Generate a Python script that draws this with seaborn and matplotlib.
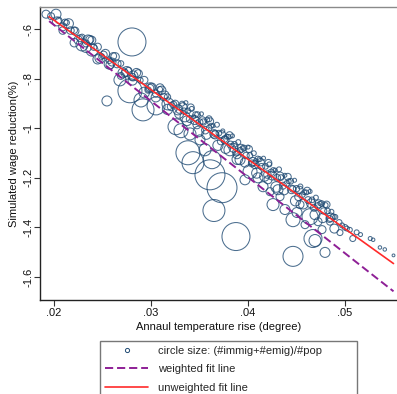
import numpy as np
import pandas as pd
import matplotlib
matplotlib.use("Agg")
import matplotlib.pyplot as plt
import matplotlib.ticker as mticker
from matplotlib.lines import Line2D
import seaborn as sns

# ── Style ──────────────────────────────────────────────────────────────────────
sns.set_style("white")
plt.rcParams["font.family"] = ["Liberation Sans", "DejaVu Sans"]
plt.rcParams["font.size"] = 8

NAVY   = "#1f4a73"
PURPLE = "#8e1f96"
RED    = "#ff2a2a"

# ── Data ──────────────────────────────────────────────────────────────────────
# thin band of small circles, left part
band1_x = [0.0197, 0.0205, 0.0209, 0.0213, 0.0217, 0.0221, 0.0225, 0.0229, 0.0233,
           0.0237, 0.0241, 0.0245, 0.0249, 0.0253, 0.0257, 0.0261, 0.0265, 0.0269,
           0.0273, 0.0277, 0.0281, 0.0285, 0.0289, 0.0293, 0.0297, 0.0301, 0.0305,
           0.0309, 0.0313, 0.0317, 0.0321, 0.0325, 0.0329]
band1_y = [-0.548, -0.565, -0.591, -0.574, -0.606, -0.605, -0.644, -0.632, -0.658,
           -0.642, -0.673, -0.672, -0.711, -0.699, -0.726, -0.709, -0.740, -0.739,
           -0.778, -0.767, -0.793, -0.776, -0.807, -0.806, -0.846, -0.834, -0.860,
           -0.843, -0.874, -0.874, -0.913, -0.901, -0.927]
band1_w = [0.006, 0.005, 0.008, 0.004, 0.007, 0.005, 0.009, 0.004, 0.006,
           0.008, 0.005, 0.007, 0.004, 0.009, 0.005, 0.006, 0.008, 0.004,
           0.007, 0.005, 0.006, 0.009, 0.004, 0.007, 0.005, 0.008, 0.006,
           0.004, 0.007, 0.005, 0.008, 0.006, 0.005]

# second row of circles, left part
band4_x = [0.0203, 0.0209, 0.0215, 0.0221, 0.0227, 0.0233, 0.0239, 0.0245,
           0.0251, 0.0257, 0.0263, 0.0269, 0.0275, 0.0281, 0.0287, 0.0293,
           0.0299, 0.0305, 0.0311, 0.0317, 0.0323, 0.0329]
band4_y = [-0.569, -0.606, -0.578, -0.655, -0.637, -0.673, -0.645, -0.722,
           -0.704, -0.741, -0.712, -0.789, -0.771, -0.808, -0.780, -0.856,
           -0.838, -0.875, -0.847, -0.924, -0.905, -0.942]
band4_w = [0.010, 0.007, 0.012, 0.009, 0.006, 0.014, 0.008, 0.011,
           0.007, 0.013, 0.009, 0.006, 0.012, 0.010, 0.008, 0.014,
           0.007, 0.011, 0.009, 0.013, 0.006, 0.010]

# dense band, middle part
band2_x = [0.0332, 0.0334, 0.0336, 0.0338, 0.0340, 0.0342, 0.0344, 0.0346,
           0.0348, 0.0350, 0.0352, 0.0354, 0.0356, 0.0358, 0.0360, 0.0362,
           0.0364, 0.0366, 0.0368, 0.0370, 0.0372, 0.0374, 0.0376, 0.0378,
           0.0380, 0.0382, 0.0384, 0.0386, 0.0388, 0.0390, 0.0392, 0.0394,
           0.0396, 0.0398, 0.0400, 0.0402, 0.0404, 0.0406, 0.0408, 0.0410,
           0.0412, 0.0414, 0.0416, 0.0418, 0.0420, 0.0422, 0.0424, 0.0426,
           0.0428, 0.0430, 0.0432, 0.0434, 0.0436, 0.0438, 0.0440, 0.0442,
           0.0444, 0.0446, 0.0448, 0.0450, 0.0452, 0.0454, 0.0456, 0.0458,
           0.0460, 0.0462, 0.0464, 0.0466, 0.0468, 0.0470, 0.0472, 0.0474,
           0.0476, 0.0478, 0.0480, 0.0482, 0.0484, 0.0486, 0.0488, 0.0490]
band2_y = [-0.901, -0.931, -0.897, -0.930, -0.963, -0.922, -0.954, -0.945,
           -0.945, -0.976, -0.942, -0.975, -1.008, -0.966, -0.999, -0.990,
           -0.990, -1.021, -0.986, -1.020, -1.053, -1.011, -1.044, -1.034,
           -1.035, -1.066, -1.031, -1.065, -1.097, -1.056, -1.089, -1.079,
           -1.080, -1.110, -1.076, -1.110, -1.142, -1.101, -1.133, -1.124,
           -1.125, -1.155, -1.121, -1.154, -1.187, -1.146, -1.178, -1.169,
           -1.169, -1.200, -1.166, -1.199, -1.232, -1.190, -1.223, -1.214,
           -1.214, -1.245, -1.210, -1.244, -1.277, -1.235, -1.268, -1.258,
           -1.259, -1.290, -1.255, -1.289, -1.321, -1.280, -1.313, -1.303,
           -1.304, -1.334, -1.310, -1.334, -1.366, -1.337, -1.357, -1.358]
band2_w = [0.003, 0.005, 0.002, 0.004, 0.006, 0.003, 0.002, 0.004,
           0.004, 0.006, 0.002, 0.005, 0.007, 0.003, 0.004, 0.003,
           0.002, 0.005, 0.003, 0.004, 0.006, 0.002, 0.005, 0.003,
           0.003, 0.006, 0.002, 0.004, 0.007, 0.003, 0.004, 0.002,
           0.004, 0.005, 0.002, 0.004, 0.006, 0.003, 0.003, 0.004,
           0.003, 0.005, 0.002, 0.004, 0.007, 0.003, 0.005, 0.003,
           0.002, 0.006, 0.003, 0.004, 0.006, 0.002, 0.004, 0.003,
           0.004, 0.005, 0.002, 0.005, 0.007, 0.003, 0.004, 0.003,
           0.003, 0.006, 0.002, 0.004, 0.006, 0.003, 0.005, 0.002,
           0.004, 0.005, 0.003, 0.004, 0.006, 0.003, 0.004, 0.003]

# second row, middle part
band3_x = [0.0333, 0.0337, 0.0341, 0.0345, 0.0349, 0.0353, 0.0357, 0.0361,
           0.0365, 0.0369, 0.0373, 0.0377, 0.0381, 0.0385, 0.0389, 0.0393,
           0.0397, 0.0401, 0.0405, 0.0409, 0.0413, 0.0417, 0.0421, 0.0425,
           0.0429, 0.0433, 0.0437, 0.0441, 0.0445, 0.0449, 0.0453, 0.0457,
           0.0461, 0.0465, 0.0469, 0.0473, 0.0477, 0.0481, 0.0485, 0.0489]
band3_y = [-0.913, -0.970, -0.916, -0.967, -1.013, -0.969, -1.026, -0.972,
           -1.023, -1.069, -1.025, -1.082, -1.028, -1.079, -1.125, -1.081,
           -1.138, -1.084, -1.135, -1.181, -1.137, -1.194, -1.140, -1.191,
           -1.237, -1.193, -1.250, -1.196, -1.247, -1.293, -1.249, -1.306,
           -1.252, -1.303, -1.349, -1.305, -1.362, -1.308, -1.359, -1.405]
band3_w = [0.008, 0.012, 0.006, 0.010, 0.014, 0.007, 0.011, 0.006,
           0.009, 0.013, 0.007, 0.012, 0.006, 0.010, 0.014, 0.008,
           0.011, 0.006, 0.009, 0.013, 0.007, 0.012, 0.006, 0.010,
           0.014, 0.008, 0.011, 0.006, 0.009, 0.013, 0.007, 0.012,
           0.006, 0.010, 0.012, 0.008, 0.011, 0.006, 0.009, 0.010]

# sparse tail on the right
tail_x = [0.0494, 0.0497, 0.0500, 0.0502, 0.0505, 0.0508, 0.0512, 0.0516,
          0.0526, 0.0529, 0.0536, 0.0541, 0.0550]
tail_y = [-1.380, -1.392, -1.400, -1.405, -1.410, -1.445, -1.420, -1.429,
          -1.445, -1.450, -1.481, -1.489, -1.513]
tail_w = [0.004, 0.003, 0.004, 0.003, 0.003, 0.0045, 0.003, 0.002,
          0.002, 0.0015, 0.0015, 0.0015, 0.001]

# medium circles, mostly under the fit lines
mid_x = [0.03814, 0.03918, 0.04021, 0.03969, 0.04103, 0.04155, 0.04227, 0.04258,
         0.04330, 0.04381, 0.04464, 0.04505, 0.04639, 0.04670, 0.04691, 0.04464,
         0.04794, 0.04588, 0.04722, 0.04845, 0.04948, 0.03505, 0.03557, 0.03763,
         0.03660, 0.03144, 0.02990, 0.02577, 0.02474, 0.02392, 0.02289, 0.02216,
         0.02351, 0.02113, 0.02598, 0.02711, 0.03093, 0.03278, 0.03351, 0.03474,
         0.03887, 0.04072, 0.04206, 0.04309, 0.04536, 0.04763, 0.03598]
mid_y = [-1.087, -1.127, -1.175, -1.208, -1.200, -1.236, -1.256, -1.308,
         -1.276, -1.328, -1.369, -1.340, -1.357, -1.445, -1.453, -1.517,
         -1.501, -1.389, -1.377, -1.377, -1.421, -1.047, -1.087, -1.047,
         -1.027, -0.866, -0.837, -0.745, -0.717, -0.685, -0.664, -0.608,
         -0.644, -0.572, -0.733, -0.777, -0.837, -0.926, -0.954, -0.986,
         -1.107, -1.147, -1.208, -1.248, -1.308, -1.409, -0.962]
mid_w = [0.018, 0.0125, 0.0245, 0.0125, 0.0125, 0.0125, 0.008, 0.018,
         0.008, 0.0125, 0.0245, 0.0125, 0.032, 0.0405, 0.018, 0.05,
         0.0125, 0.008, 0.008, 0.006, 0.0045, 0.0125, 0.018, 0.008,
         0.008, 0.008, 0.0125, 0.008, 0.0125, 0.018, 0.018, 0.008,
         0.0125, 0.0045, 0.008, 0.0125, 0.008, 0.0125, 0.0125, 0.008,
         0.008, 0.008, 0.008, 0.0125, 0.008, 0.008, 0.0045]

# large circles
big_x = [0.01918, 0.02021, 0.02804, 0.02546, 0.02783, 0.02918, 0.03052, 0.02897,
         0.02680, 0.02814, 0.03175, 0.03258, 0.03309, 0.03402, 0.03381, 0.03433,
         0.03629, 0.03608, 0.03732, 0.03649, 0.03876]
big_y = [-0.540, -0.540, -0.652, -0.890, -0.849, -0.926, -0.910, -0.886,
         -0.805, -0.789, -0.902, -0.994, -1.010, -1.023, -1.099, -1.139,
         -1.127, -1.188, -1.240, -1.332, -1.437]
big_w = [0.008, 0.0125, 0.098, 0.0125, 0.072, 0.0605, 0.0405, 0.0245,
         0.018, 0.0125, 0.018, 0.032, 0.0245, 0.018, 0.072, 0.0605,
         0.0405, 0.1125, 0.1125, 0.0605, 0.098]

# fit lines (end points)
fit_x        = [0.0195, 0.0550]
unweighted_y = [-0.550, -1.546]
weighted_y   = [-0.568, -1.658]

xticks = [0.02, 0.03, 0.04, 0.05]
xtick_labels = [".02", ".03", ".04", ".05"]
yticks = [-0.6, -0.8, -1.0, -1.2, -1.4, -1.6]
ytick_labels = ["-.6", "-.8", "-1", "-1.2", "-1.4", "-1.6"]

df = pd.DataFrame({
    "temp":  band1_x + band4_x + band2_x + band3_x + tail_x + mid_x + big_x,
    "wage":  band1_y + band4_y + band2_y + band3_y + tail_y + mid_y + big_y,
    "share": band1_w + band4_w + band2_w + band3_w + tail_w + mid_w + big_w,
})

# ── Figure ────────────────────────────────────────────────────────────────────
fig = plt.figure(figsize=(3.97, 3.94), dpi=100)
ax = fig.add_axes([40 / 397, 1 - 300 / 394, 357 / 397, 293 / 394])

# area in pt^2 proportional to share
K = 4140
wmin, wmax = df["share"].min(), df["share"].max()
sns.scatterplot(data=df, x="temp", y="wage", size="share",
                sizes=(K * wmin, K * wmax), size_norm=(wmin, wmax),
                legend=False, ax=ax, zorder=2)
pts = ax.collections[-1]
pts.set_facecolor("none")
pts.set_edgecolor(NAVY)
pts.set_linewidth(0.75)
pts.set_alpha(0.8)

ax.plot(fit_x, weighted_y, color=PURPLE, lw=1.4, ls=(0, (4.2, 2.0)), zorder=3)
ax.plot(fit_x, unweighted_y, color=RED, lw=1.2, zorder=4)

ax.set_xlim(0.01856, 0.05536)
ax.set_ylim(-1.693, -0.511)
ax.xaxis.set_major_locator(mticker.FixedLocator(xticks))
ax.set_xticklabels(xtick_labels)
ax.yaxis.set_major_locator(mticker.FixedLocator(yticks))
ax.set_yticklabels(ytick_labels, rotation=90, va="center")
ax.tick_params(axis="both", direction="out", length=4, width=0.8,
               color="#333333", labelsize=8, labelcolor="#111111")
ax.tick_params(axis="x", bottom=True, pad=2)
ax.tick_params(axis="y", left=True, pad=0.5)

for s in ["left", "bottom"]:
    ax.spines[s].set_color("#222222")
    ax.spines[s].set_linewidth(1.0)
ax.spines["top"].set_color("#8a8a8a")
ax.spines["top"].set_linewidth(1.0)
ax.spines["right"].set_visible(False)

ax.set_xlabel("Annaul temperature rise (degree)", fontsize=8, labelpad=3, color="#111111")
ax.set_ylabel("Simulated wage reduction(%)", fontsize=8, color="#111111")
ax.yaxis.set_label_coords(-21 / 357, 0.5)

handles = [
    Line2D([], [], ls="none", marker="o", ms=3, mfc="none", mec=NAVY, mew=0.7),
    Line2D([], [], color=PURPLE, lw=1.4, ls=(0, (4.2, 2.0))),
    Line2D([], [], color=RED, lw=1.2),
]
labels = ["circle size: (#immig+#emig)/#pop", "weighted fit line", "unweighted fit line"]
leg = fig.legend(handles, labels, loc="upper left",
                 bbox_to_anchor=(100 / 397, 0, 257 / 397, 1 - 341 / 394),
                 mode="expand", fontsize=8, frameon=True, fancybox=False,
                 edgecolor="#777777", framealpha=1, handlelength=3.9,
                 handletextpad=0.9, labelspacing=0.75, borderpad=0.45,
                 borderaxespad=0)
leg.get_frame().set_linewidth(1.0)

fig.savefig("out.png", dpi=100)
